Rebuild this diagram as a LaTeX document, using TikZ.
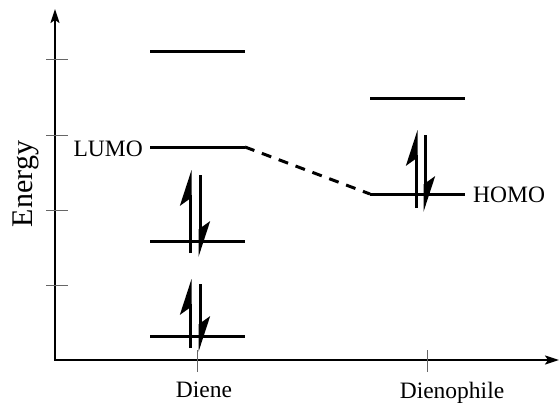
\documentclass[tikz,border=0pt]{standalone}
\usepackage{fontspec}
\setmainfont{Liberation Serif}
\usetikzlibrary{arrows.meta,positioning}
\tikzset{
  >={Stealth[length=14pt,width=9pt,inset=3pt]},
  axis/.style={<->, line width=2pt},
  axtick/.style={draw=black!60, line width=1pt},
  level/.style={line width=3pt},
  spin/.style={line width=3pt, -{Stealth[left,length=31pt,width=20pt,inset=7pt]}},
  corr/.style={line width=3pt, dash pattern=on 10pt off 8pt},
  lbl/.style={font=\fontsize{23.5}{28}\selectfont, inner sep=0pt},
}

\begin{document}
\begin{tikzpicture}[x=1pt,y=-1pt]
  \useasboundingbox (0,0) rectangle (560,404);
  % axes
  \coordinate (ytop) at (55,9);
  \coordinate (orig) at (55,360);
  \coordinate (xend) at (559,360);
  \draw[axis] (ytop) -- (orig) -- (xend);
  \foreach \y in {60,135,210,285}{\draw[axtick] (46,\y) -- (68,\y);}
  \foreach \x in {197,427}{\draw[axtick] (\x,350) -- (\x,372);}
  % orbital levels
  \foreach \n/\y in {d4/52,d3/147,d2/241,d1/336}{
    \coordinate (\n w) at (150,\y);
    \coordinate (\n e) at (245,\y);
    \draw[level] (\n w) -- (\n e);}
  \foreach \n/\y in {p2/99,p1/194}{
    \coordinate (\n w) at (370,\y);
    \coordinate (\n e) at (465,\y);
    \draw[level] (\n w) -- (\n e);}
  \draw[corr] (d3e) -- (p1w);
  % electron pairs
  \foreach \xu/\xd/\yt/\yb in {190/200/170/255, 190/200/279/350, 416/425/130/210}{
    \draw[spin] (\xu,\yb-2) -- (\xu,\yt);
    \draw[spin] (\xd,\yt+5) -- (\xd,\yb+2);}
  % labels
  \node[lbl, anchor=base east] (lumo) at (143,156) {LUMO};
  \node[lbl, anchor=base west] (homo) at (473,202) {HOMO};
  \node[lbl, anchor=base] (diene) at (204,397) {Diene};
  \node[lbl, anchor=base] (dienophile) at (452,398) {Dienophile};
  \node[font=\fontsize{30}{36}\selectfont, rotate=90, anchor=base, inner sep=0pt] (energy) at (32,184) {Energy};
\end{tikzpicture}
\end{document}
